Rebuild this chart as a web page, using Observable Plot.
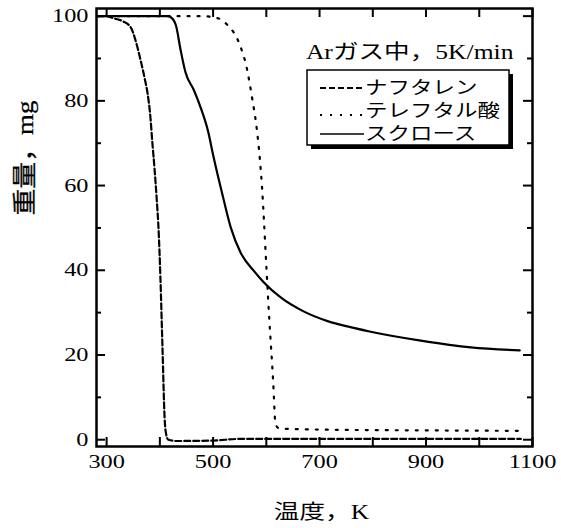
<!DOCTYPE html>
<html><head><meta charset="utf-8">
<script src="https://cdn.jsdelivr.net/npm/d3@7"></script>
<script src="https://cdn.jsdelivr.net/npm/@observablehq/plot@0.6"></script>
<style>body{margin:0;background:#fff}</style>
</head><body><div id="chart"></div>
<script>
// ---- data ----
const seriesNames = ["ナフタレン", "テレフタル酸", "スクロース"];
const naphT = [283, 300, 313, 330, 345, 355, 364, 372, 377, 382, 386, 390, 394, 398, 401, 405, 409, 412, 416, 430, 500, 550, 700, 900, 1078];
const naphW = [100, 100, 99.5, 98.8, 97.4, 94, 89.5, 85, 81.7, 76.5, 70, 64, 57, 48.5, 38.5, 21.5, 5, 1.2, 0, -0.3, -0.2, 0.2, 0.2, 0.2, 0.2];
const terT = [283, 480, 509, 527, 549, 564, 573, 583, 589, 592, 595, 600, 606, 613, 617, 622, 632, 700, 900, 1075];
const terW = [100, 100, 99.5, 97.9, 93.6, 87.3, 80.9, 72.4, 64.5, 59.5, 53, 41, 27.6, 13.4, 4, 2.8, 2.6, 2.4, 2.2, 2.1];
const sucT = [283, 415, 420, 430, 439, 448, 464, 477, 490, 501, 514, 520, 533, 552, 577, 595, 627, 670, 715, 764, 796, 890, 984, 1076];
const sucW = [100, 100, 99.8, 97.9, 92, 86.8, 82.5, 78.3, 73.1, 66.7, 59.7, 56.6, 50.2, 44.1, 39.8, 37.2, 33.6, 30.3, 28, 26.4, 25.5, 23.4, 21.8, 21.1];
const xTicks = [300, 400, 500, 600, 700, 800, 900, 1000, 1100];
const xTickLabels = [300, 500, 700, 900, 1100];
const yTicksMajor = [0, 20, 40, 60, 80, 100];
const yTicksMinor = [10, 30, 50, 70, 90];
const title = "Arガス中，5K/min";
const xLabel = "温度，K";
const yLabel = "重量，mg";

const rows = (T, W, name) => T.map((t, i) => ({T: t, W: W[i], name}));
const font = "'Liberation Serif','Noto Sans CJK JP',serif";
const innerW = 436, innerH = 438;
const dashes = ["6,3", "2,8", null];

const plot = Plot.plot({
  width: 561, height: 528,
  marginLeft: 96, marginRight: 29, marginTop: 8, marginBottom: 82,
  style: {fontFamily: font, fontSize: "19px", color: "#000", background: "#fff"},
  x: {domain: [281, 1100]},
  y: {domain: [-1.6, 101.8]},
  marks: [
    Plot.line(rows(naphT, naphW, seriesNames[0]), {x: "T", y: "W", stroke: "#000", strokeWidth: 2.2, strokeDasharray: dashes[0], curve: "monotone-x"}),
    Plot.line(rows(terT, terW, seriesNames[1]), {x: "T", y: "W", stroke: "#000", strokeWidth: 2.2, strokeDasharray: dashes[1], curve: "monotone-x"}),
    Plot.line(rows(sucT, sucW, seriesNames[2]), {x: "T", y: "W", stroke: "#000", strokeWidth: 2.2, curve: "monotone-x"}),
    Plot.tickX(xTicks, {x: d => d, insetTop: innerH - 9, strokeWidth: 2}),
    Plot.tickX(xTicks, {x: d => d, insetBottom: innerH - 9, strokeWidth: 2}),
    Plot.tickY(yTicksMajor, {y: d => d, insetRight: innerW - 9, strokeWidth: 2}),
    Plot.tickY(yTicksMajor, {y: d => d, insetLeft: innerW - 9, strokeWidth: 2}),
    Plot.tickY(yTicksMinor, {y: d => d, insetRight: innerW - 5, strokeWidth: 2}),
    Plot.tickY(yTicksMinor, {y: d => d, insetLeft: innerW - 5, strokeWidth: 2}),
    Plot.axisX({ticks: xTickLabels, tickFormat: d => String(d), tickSize: 0, tickPadding: 8, label: null, fontSize: 19}),
    Plot.axisY({ticks: yTicksMajor, tickFormat: d => String(d), tickSize: 0, tickPadding: 8, label: null, fontSize: 19}),
    Plot.frame({stroke: "#000", strokeWidth: 2.5}),
    Plot.text([title], {text: d => d, frameAnchor: "top-right", textAnchor: "end", lineAnchor: "middle", dx: -19, dy: 44, fontSize: 20, fill: "#000"}),
    Plot.text([xLabel], {text: d => d, frameAnchor: "bottom", lineAnchor: "middle", dy: 66, dx: 7, fontSize: 20, fill: "#000"}),
    Plot.text([yLabel], {text: d => d, frameAnchor: "left", rotate: -90, lineAnchor: "middle", dx: -71, dy: -12, fontSize: 24, fill: "#000", stroke: "#000", strokeWidth: 0.3})
  ]
});

// widen glyphs horizontally like the reference (scale about each text's anchor)
plot.querySelectorAll("text").forEach(t => {
  const tr = t.getAttribute("transform");
  if (tr && !t.hasAttribute("x")) {
    const s = tr.includes("rotate") ? 1.12 : 1.28;
    t.setAttribute("transform", tr + ` scale(${s},1)`);
  }
});

// legend
const lg = d3.select(plot).append("g").attr("font-family", font).attr("text-anchor", "start");
lg.append("rect").attr("x", 311).attr("y", 74).attr("width", 202).attr("height", 75).attr("fill", "#000");
lg.append("rect").attr("x", 307).attr("y", 70).attr("width", 202).attr("height", 75)
  .attr("fill", "#fff").attr("stroke", "#000").attr("stroke-width", 1.5);
const rowY = [88, 111, 134];
seriesNames.forEach((name, i) => {
  const ly = i === 1 ? rowY[i] + 4 : rowY[i];
  const ln = lg.append("line").attr("x1", 320).attr("x2", 364).attr("y1", ly).attr("y2", ly)
    .attr("stroke", "#000").attr("stroke-width", i === 2 ? 1.3 : 2.2);
  if (dashes[i]) ln.attr("stroke-dasharray", dashes[i]);
  lg.append("text").attr("transform", `translate(365,${rowY[i]}) scale(1.25,1)`)
    .attr("text-anchor", "start").attr("dy", "0.35em").attr("font-size", 18).attr("fill", "#000").text(name);
});

document.getElementById("chart").append(plot);
</script>
</body></html>
